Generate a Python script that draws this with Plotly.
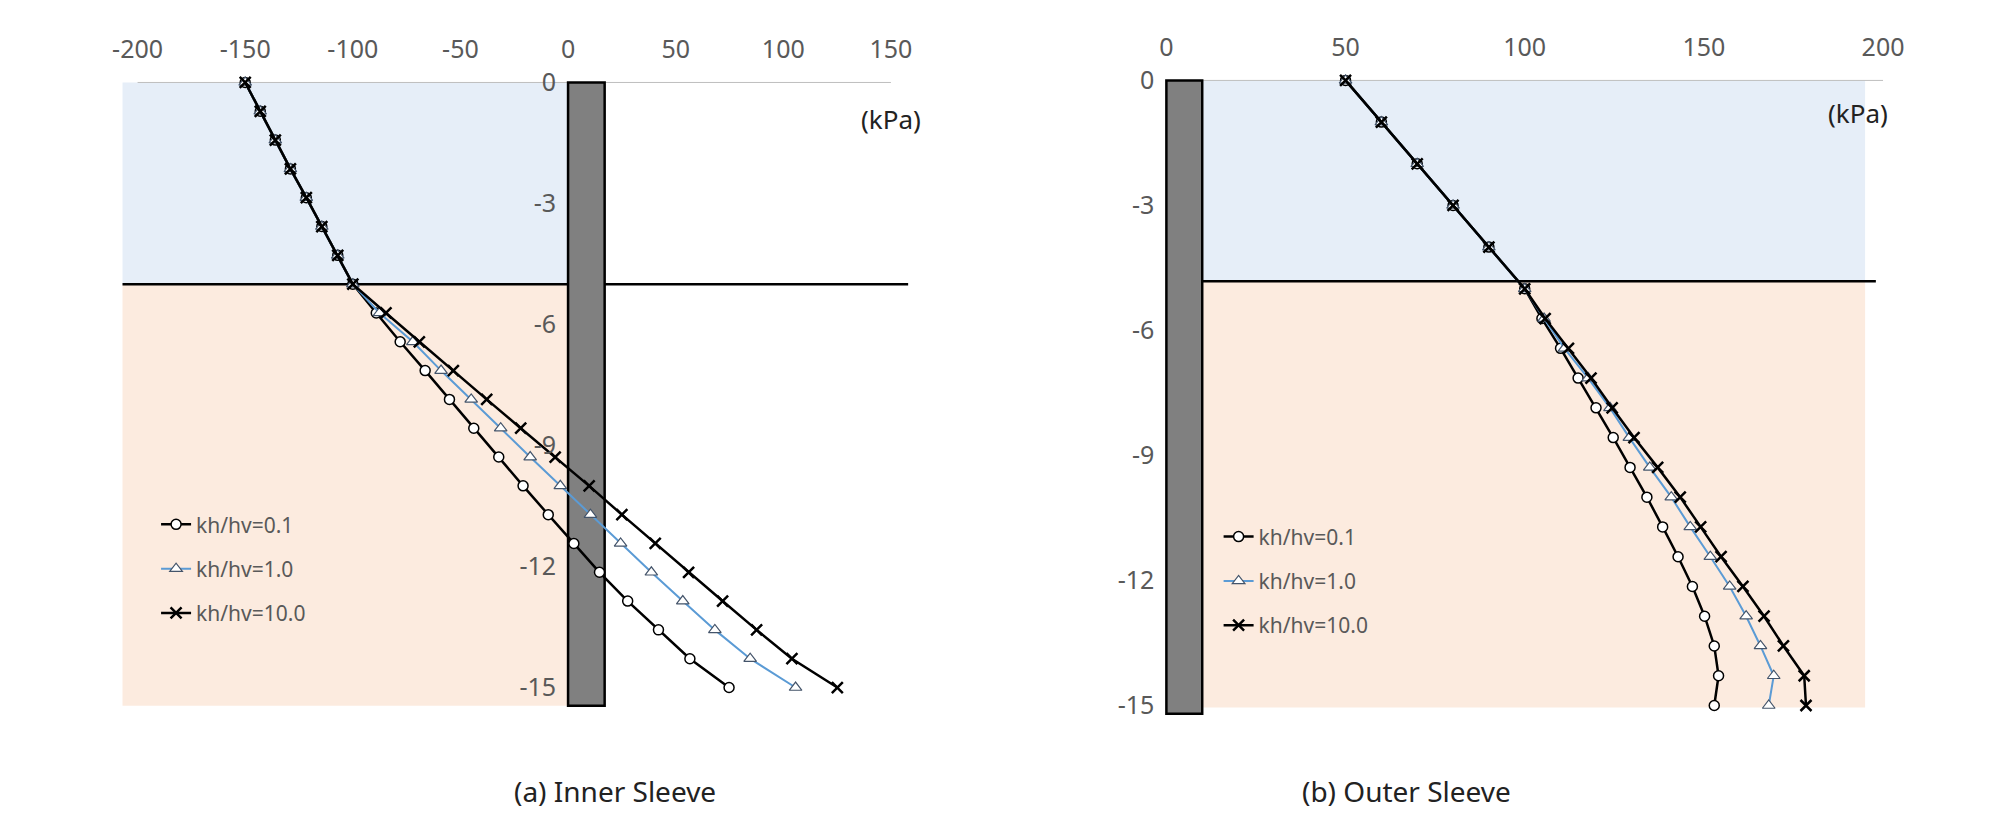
import plotly.graph_objects as go

# depth (m)
depth_a_top = [0, -0.714, -1.429, -2.143, -2.857, -3.571, -4.286, -5.0]
depth_a_bot = [-5.714, -6.429, -7.143, -7.857, -8.571, -9.286, -10.0, -10.714,
               -11.429, -12.143, -12.857, -13.571, -14.286, -15.0]
depth_b_top = [0, -1, -2, -3, -4, -5]
depth_b_bot = depth_a_bot

# (a) inner sleeve pressures (kPa)
inner_top = [-150, -143, -136, -129, -121.6, -114.4, -107, -100]
inner_01 = [-89.1, -78.0, -66.4, -55.1, -43.8, -32.2, -20.9, -9.2, 2.7, 14.6, 27.7, 42.0, 56.6, 74.8]
inner_10 = [-87.6, -72.1, -59.0, -45.0, -31.3, -17.6, -3.6, 10.4, 24.4, 38.7, 53.3, 68.2, 84.6, 105.7]
inner_100 = [-84.6, -69.1, -53.3, -37.8, -22.0, -6.0, 9.8, 25.0, 40.5, 56.0, 71.8, 87.6, 104.0, 125.1]

# (b) outer sleeve pressures (kPa)
outer_top = [50, 60, 70, 80, 90, 100]
outer_01 = [104.8, 110.0, 114.9, 119.9, 124.7, 129.4, 134.1, 138.5, 142.8, 146.8, 150.2, 152.9, 154.1, 152.9]
outer_10 = [105.4, 111.1, 117.7, 123.8, 129.2, 134.9, 140.9, 146.2, 151.8, 157.2, 161.8, 165.8, 169.5, 168.1]
outer_100 = [105.7, 112.2, 118.5, 124.4, 130.5, 137.1, 143.4, 149.1, 154.8, 160.9, 166.8, 172.2, 178.0, 178.5]

labels = ["kh/hv=0.1", "kh/hv=1.0", "kh/hv=10.0"]
xticks_a = [-200, -150, -100, -50, 0, 50, 100, 150]
xticks_b = [0, 50, 100, 150, 200]
yticks = [0, -3, -6, -9, -12, -15]

styles = [
    dict(line=dict(color="black", width=2.5),
         marker=dict(symbol="circle", size=10, color="white", line=dict(color="black", width=1.5))),
    dict(line=dict(color="#5B9BD5", width=2),
         marker=dict(symbol="triangle-up", size=11, color="white", line=dict(color="#44546A", width=1.2))),
    dict(line=dict(color="black", width=2.5),
         marker=dict(symbol="x-thin", size=11, color="black", line=dict(color="black", width=2.5))),
]

fig = go.Figure()
for i, (lab, a, b) in enumerate(zip(labels, [inner_01, inner_10, inner_100], [outer_01, outer_10, outer_100])):
    fig.add_trace(go.Scatter(x=inner_top + a, y=depth_a_top + depth_a_bot, mode="lines+markers",
                             name=lab, legend="legend", legendgroup="a%d" % i,
                             xaxis="x", yaxis="y", **styles[i]))
    fig.add_trace(go.Scatter(x=outer_top + b, y=depth_b_top + depth_b_bot, mode="lines+markers",
                             name=lab, legend="legend2", legendgroup="b%d" % i,
                             xaxis="x2", yaxis="y2", **styles[i]))

blue, peach, pile = "#E6EEF8", "#FCEBDF", "#808080"
shapes = [
    # (a)
    dict(type="rect", xref="x", yref="y", x0=-207, x1=0, y0=0, y1=-5, fillcolor=blue, line_width=0, layer="below"),
    dict(type="rect", xref="x", yref="y", x0=-207, x1=0, y0=-5, y1=-15.45, fillcolor=peach, line_width=0, layer="below"),
    dict(type="line", xref="x", yref="y", x0=-200, x1=150, y0=0, y1=0, line=dict(color="#BFBFBF", width=1), layer="below"),
    dict(type="line", xref="x", yref="y", x0=-207, x1=158, y0=-5, y1=-5, line=dict(color="black", width=2.5), layer="below"),
    dict(type="rect", xref="x", yref="y", x0=0, x1=17, y0=0, y1=-15.45, fillcolor=pile,
         line=dict(color="black", width=2.5), layer="below"),
    # (b)
    dict(type="rect", xref="x2", yref="y2", x0=10, x1=195, y0=0, y1=-4.82, fillcolor=blue, line_width=0, layer="below"),
    dict(type="rect", xref="x2", yref="y2", x0=10, x1=195, y0=-4.82, y1=-15.05, fillcolor=peach, line_width=0, layer="below"),
    dict(type="line", xref="x2", yref="y2", x0=0, x1=200, y0=0, y1=0, line=dict(color="#BFBFBF", width=1), layer="below"),
    dict(type="line", xref="x2", yref="y2", x0=10, x1=198, y0=-4.82, y1=-4.82, line=dict(color="black", width=2.5), layer="below"),
    dict(type="rect", xref="x2", yref="y2", x0=0, x1=10, y0=0, y1=-15.2, fillcolor=pile,
         line=dict(color="black", width=2.5), layer="below"),
]

tick_font = dict(family="Noto Sans", size=25, color="#595959")
ax = dict(showgrid=False, zeroline=False, showline=False, ticks="", tickfont=tick_font)

dom_a, rng_a = [0.052, 0.450], [-210, 160]
dom_b, rng_b = [0.559, 0.944], [-10, 205]
pos_a = dom_a[0] + (0 - rng_a[0]) / (rng_a[1] - rng_a[0]) * (dom_a[1] - dom_a[0])
pos_b = dom_b[0] + (0 - rng_b[0]) / (rng_b[1] - rng_b[0]) * (dom_b[1] - dom_b[0])


def tt(vals):
    return [str(v) for v in vals]


fig.update_layout(
    width=2008, height=823, margin=dict(l=0, r=0, t=0, b=0),
    paper_bgcolor="white", plot_bgcolor="rgba(0,0,0,0)",
    font=dict(family="Noto Sans", color="#404040"),
    shapes=shapes,
    xaxis=dict(ax, domain=dom_a, range=rng_a, side="top", tickvals=xticks_a, ticktext=tt(xticks_a),
               anchor="y", ticklabelstandoff=6),
    yaxis=dict(ax, domain=[0.146, 0.931], range=[-15.6, 0.3], tickvals=yticks, ticktext=tt(yticks),
               anchor="free", position=pos_a, ticklabelstandoff=12),
    xaxis2=dict(ax, domain=dom_b, range=rng_b, side="top", tickvals=xticks_b, ticktext=tt(xticks_b),
                anchor="y2", ticklabelstandoff=6),
    yaxis2=dict(ax, domain=[0.123, 0.934], range=[-15.6, 0.3], tickvals=yticks, ticktext=tt(yticks),
                anchor="free", position=pos_b, ticklabelstandoff=12),
    legend=dict(x=0.072, y=0.40, xanchor="left", yanchor="top", bgcolor="rgba(0,0,0,0)",
                tracegroupgap=14, font=dict(size=21, color="#595959")),
    legend2=dict(x=0.603, y=0.385, xanchor="left", yanchor="top", bgcolor="rgba(0,0,0,0)",
                 tracegroupgap=14, font=dict(size=21, color="#595959")),
    showlegend=True,
    annotations=[
        dict(text="(kPa)", x=150, y=-0.9, xref="x", yref="y", showarrow=False, font=dict(size=26, color="#222")),
        dict(text="(m)", x=-12, y=-16.4, xref="x", yref="y", showarrow=False, font=dict(size=26, color="#222")),
        dict(text="(kPa)", x=193, y=-0.77, xref="x2", yref="y2", showarrow=False, font=dict(size=26, color="#222")),
        dict(text="(m)", x=0, y=-16.1, xref="x2", yref="y2", showarrow=False, font=dict(size=26, color="#222")),
        dict(text="(a) Inner Sleeve", x=502 / 2008, y=1 - 804 / 823, xref="paper", yref="paper",
             showarrow=False, font=dict(size=28, color="#222")),
        dict(text="(b) Outer Sleeve", x=1506 / 2008, y=1 - 804 / 823, xref="paper", yref="paper",
             showarrow=False, font=dict(size=28, color="#222")),
    ],
)

fig.write_html("out.html")
